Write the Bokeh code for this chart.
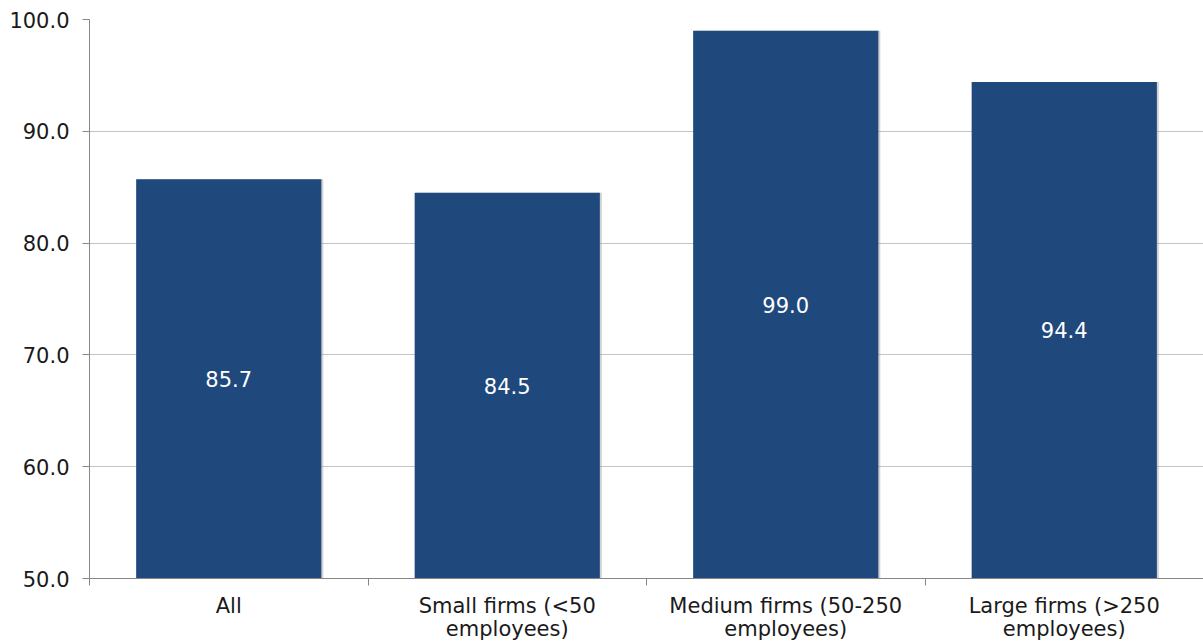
from bokeh.plotting import figure
from bokeh.models import ColumnDataSource, Range1d, FixedTicker, NumeralTickFormatter
from bokeh.core.properties import value
from bokeh.embed import file_html
from bokeh.resources import INLINE

# ---- data ----
categories = ["All", "Small firms (<50\nemployees)", "Medium firms (50-250\nemployees)", "Large firms (>250\nemployees)"]
values = [85.7, 84.5, 99.0, 94.4]
value_labels = ["85.7", "84.5", "99.0", "94.4"]
y_ticks = [50, 60, 70, 80, 90, 100]

FONT = "DejaVu Sans"
BAR = "#1F497D"
AXIS = "#868686"

n = len(categories)
xs = [i + 0.5 for i in range(n)]
base = y_ticks[0]
src = ColumnDataSource(dict(
    x=xs,
    xs_shadow=[x + 0.007 for x in xs],
    top=values,
    mid=[(base + v) / 2 for v in values],
    lab=value_labels,
))

p = figure(width=1203, height=644, output_backend="svg", toolbar_location=None,
           x_range=Range1d(0, n), y_range=Range1d(y_ticks[0], y_ticks[-1]),
           min_border_left=89, min_border_right=0, min_border_top=19, min_border_bottom=66)
p.outline_line_color = None
p.background_fill_color = "white"
p.border_fill_color = "white"

p.xgrid.grid_line_color = None
p.ygrid.ticker = FixedTicker(ticks=y_ticks)
p.ygrid.grid_line_color = "#c4c4c4"
p.ygrid.grid_line_width = 1

# faint shadow
p.vbar(x="xs_shadow", top="top", bottom=base, width=0.665, source=src,
       fill_color="#9a9a9a", fill_alpha=0.45, line_color=None)
p.vbar(x="x", top="top", bottom=base, width=0.665, source=src,
       fill_color=BAR, line_color=None)

p.text(x="x", y="mid", text="lab", source=src, text_color="white",
       text_font=value(FONT), text_font_size="21px",
       text_align="center", text_baseline="middle")

# y axis
yax = p.yaxis[0]
yax.ticker = FixedTicker(ticks=y_ticks)
yax.formatter = NumeralTickFormatter(format="0.0")
yax.major_tick_out = 7
yax.major_tick_in = 0
yax.minor_tick_line_color = None
yax.axis_line_color = AXIS
yax.major_tick_line_color = AXIS
yax.major_label_text_font = FONT
yax.major_label_text_font_size = "21px"
yax.major_label_text_color = "#1a1a1a"
yax.major_label_standoff = 13

# x axis: labels at centers, separator ticks as minor ticks
xax = p.xaxis[0]
xax.ticker = FixedTicker(ticks=xs, minor_ticks=list(range(n + 1)))
xax.major_label_overrides = {x: c for x, c in zip(xs, categories)}
xax.major_tick_line_color = None
xax.major_tick_out = 0
xax.major_tick_in = 0
xax.minor_tick_out = 7
xax.minor_tick_in = 0
xax.minor_tick_line_color = AXIS
xax.axis_line_color = AXIS
xax.major_label_text_font = FONT
xax.major_label_text_font_size = "21px"
xax.major_label_text_line_height = 0.96
xax.major_label_text_color = "#1a1a1a"
xax.major_label_standoff = 8

open("out.html", "w").write(file_html(p, INLINE))
